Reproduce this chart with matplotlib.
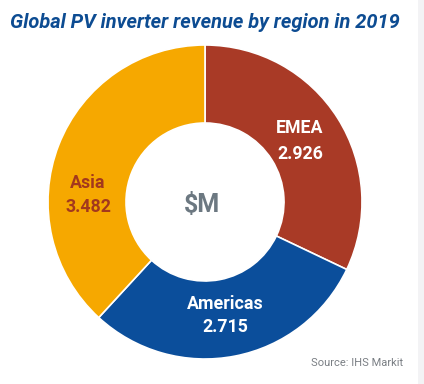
import matplotlib
matplotlib.use("Agg")
import matplotlib.pyplot as plt
from matplotlib.patches import Rectangle

# datos
regiones = ["EMEA", "Americas", "Asia"]
ingresos = [2.926, 2.715, 3.482]
colores = ["#A93A26", "#0B4E9B", "#F6A800"]
titulo = "Global PV inverter revenue by region in 2019"
fuente = "Source: IHS Markit"

ancho, alto = 424, 384

fig = plt.figure(figsize=(ancho / 100, alto / 100), dpi=100)
ax = fig.add_axes([0, 0, 1, 1])

cx, cy, r = 205, alto - 202, 157
ax.pie(ingresos, colors=colores, startangle=90, counterclock=False,
       center=(cx, cy), radius=r,
       wedgeprops=dict(width=r - 79, edgecolor="white", linewidth=1.2))

ax.set_xlim(0, ancho)
ax.set_ylim(0, alto)
ax.set_aspect("equal")
ax.axis("off")

# franja gris a la derecha
ax.add_patch(Rectangle((418, 0), 6, alto, color="#F3F3F5", lw=0))

familia = ["Roboto", "DejaVu Sans"]

ax.text(205, alto - 22, titulo, ha="center", va="center", fontsize=14.4,
        fontweight="bold", style="italic", color="#0D4C92", family=familia)

# etiquetas
pos = {"EMEA": (300, 128, 154), "Americas": (225, 304, 327), "Asia": (88, 183, 207)}
col_txt = {"EMEA": "white", "Americas": "white", "Asia": "#A3381D"}
for reg, val in zip(regiones, ingresos):
    x, y1, y2 = pos[reg]
    ax.text(x, alto - y1, reg, ha="center", va="center", fontsize=12.8,
            fontweight="bold", color=col_txt[reg], family=familia)
    ax.text(x, alto - y2, f"{val:.3f}", ha="center", va="center", fontsize=12.8,
            fontweight="bold", color=col_txt[reg], family=familia)

ax.text(202, alto - 205, "$M", ha="center", va="center", fontsize=18,
        fontweight="bold", color="#6C7881", family=familia)

ax.text(357, alto - 363, fuente, ha="center", va="center", fontsize=8,
        color="#7A7F84", family=familia)

fig.savefig("out.png", dpi=100)
